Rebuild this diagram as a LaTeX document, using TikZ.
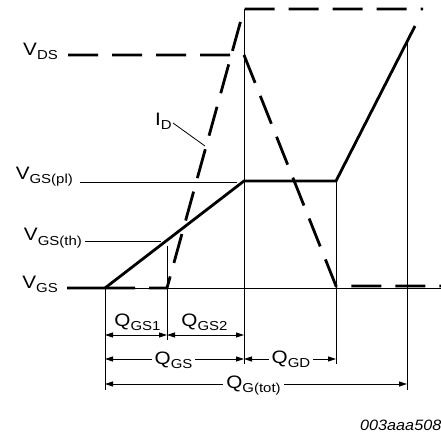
\documentclass[tikz,border=0pt]{standalone}
\usepackage{fontspec}
\setmainfont{Liberation Sans}
\usetikzlibrary{arrows.meta,calc}
\newcommand{\lo}[1]{\raisebox{-4.4pt}{\fontsize{13}{13}\selectfont #1}}
\newcommand{\wide}[1]{\scalebox{1.15}[1]{#1}}
\tikzset{
  wave/.style={line width=2.8pt,line join=miter},
  dwave/.style={wave,dash pattern=on 30pt off 14pt},
  fine/.style={line width=0.8pt},
  dim/.style={fine,{Triangle[length=8pt,width=5pt]}-{Triangle[length=8pt,width=5pt]}},
  lbl/.style={font=\fontsize{18}{20}\selectfont,inner sep=0pt},
  gap/.style={lbl,fill=white,inner xsep=3pt,inner ysep=0pt}
}
\begin{document}
\begin{tikzpicture}[x=1pt,y=-1pt]
\useasboundingbox (0,0) rectangle (441,437);
% corners of the waveforms
\coordinate (g0) at (67,288);
\coordinate (g1) at (105,288);
\coordinate (g2) at (167,288);
\coordinate (pl) at (244,181);
\coordinate (pe) at (336,181);
\coordinate (gt) at (415,26);
\coordinate (bR) at (441,288);
\coordinate (d0) at (68,55);
\coordinate (d1) at (244,55);
\coordinate (d2) at (336,286);
\coordinate (d3) at (441,286);
\coordinate (i1) at (244,9);
\coordinate (i2) at (423,9);
% dimension rows
\coordinate (a1) at (105,335);
\coordinate (a2) at (167,335);
\coordinate (a3) at (244,335);
\coordinate (b1) at (105,359);
\coordinate (b2) at (244,359);
\coordinate (b3) at (336,359);
\coordinate (c1) at (105,384);
\coordinate (c2) at (407,384);
% labels on the left
\node[lbl,anchor=base east] (vds) at (58,55) {\wide{V\lo{DS}}};
\node[lbl,anchor=base east] (vpl) at (73,179) {\wide{V\lo{GS(pl)}}};
\node[lbl,anchor=base east] (vth) at (82,240.7) {\wide{V\lo{GS(th)}}};
\node[lbl,anchor=base east] (vgs) at (58,288) {\wide{V\lo{GS}}};
\node[lbl,anchor=base west] (id) at (155,125) {\wide{I\lo{D}}};
% leaders
\draw[fine] (80,182) -- (237,182);
\draw[fine] (85,241.5) -- (161,241.5);
\draw[fine] (173,123) -- (205,146);
% baseline and extension lines
\draw[fine] (g0) -- (bR);
\draw[fine] (g1) -- (105,390);
\draw[fine] (167,246) -- (167,340);
\draw[fine] (i1) -- (244,364);
\draw[fine] (pe) -- (336,364);
\draw[fine] (407,42) -- (407,390);
% waveforms
\draw[dwave] (g1) -- (g2) -- (i1) -- (i2);
\draw[dwave] (d0) -- (d1) -- (d2) -- (d3);
\draw[wave] (g0) -- (g1) -- (pl) -- (pe) -- (gt);
% charges
\draw[dim] (a1) -- (a2);
\draw[dim] (a2) -- (a3);
\draw[dim] (b1) -- (b2);
\draw[dim] (b2) -- (b3);
\draw[dim] (c1) -- (c2);
\node[lbl,anchor=base] (qgs1) at (137.5,326.5) {\wide{Q\lo{GS1}}};
\node[lbl,anchor=base] (qgs2) at (204.5,326.5) {\wide{Q\lo{GS2}}};
\node[gap,anchor=base] (qgs) at (173.5,364) {\wide{Q\lo{GS}}};
\node[gap,anchor=base] (qgd) at (291,363) {\wide{Q\lo{GD}}};
\node[gap,anchor=base] (qtot) at (253.5,388) {\wide{Q\lo{G(tot)}}};
\node[font=\fontsize{15}{18}\selectfont\itshape,inner sep=0pt,anchor=base west] (code) at (360,430) {\scalebox{1.08}[1]{003aaa508}};
\end{tikzpicture}
\end{document}
